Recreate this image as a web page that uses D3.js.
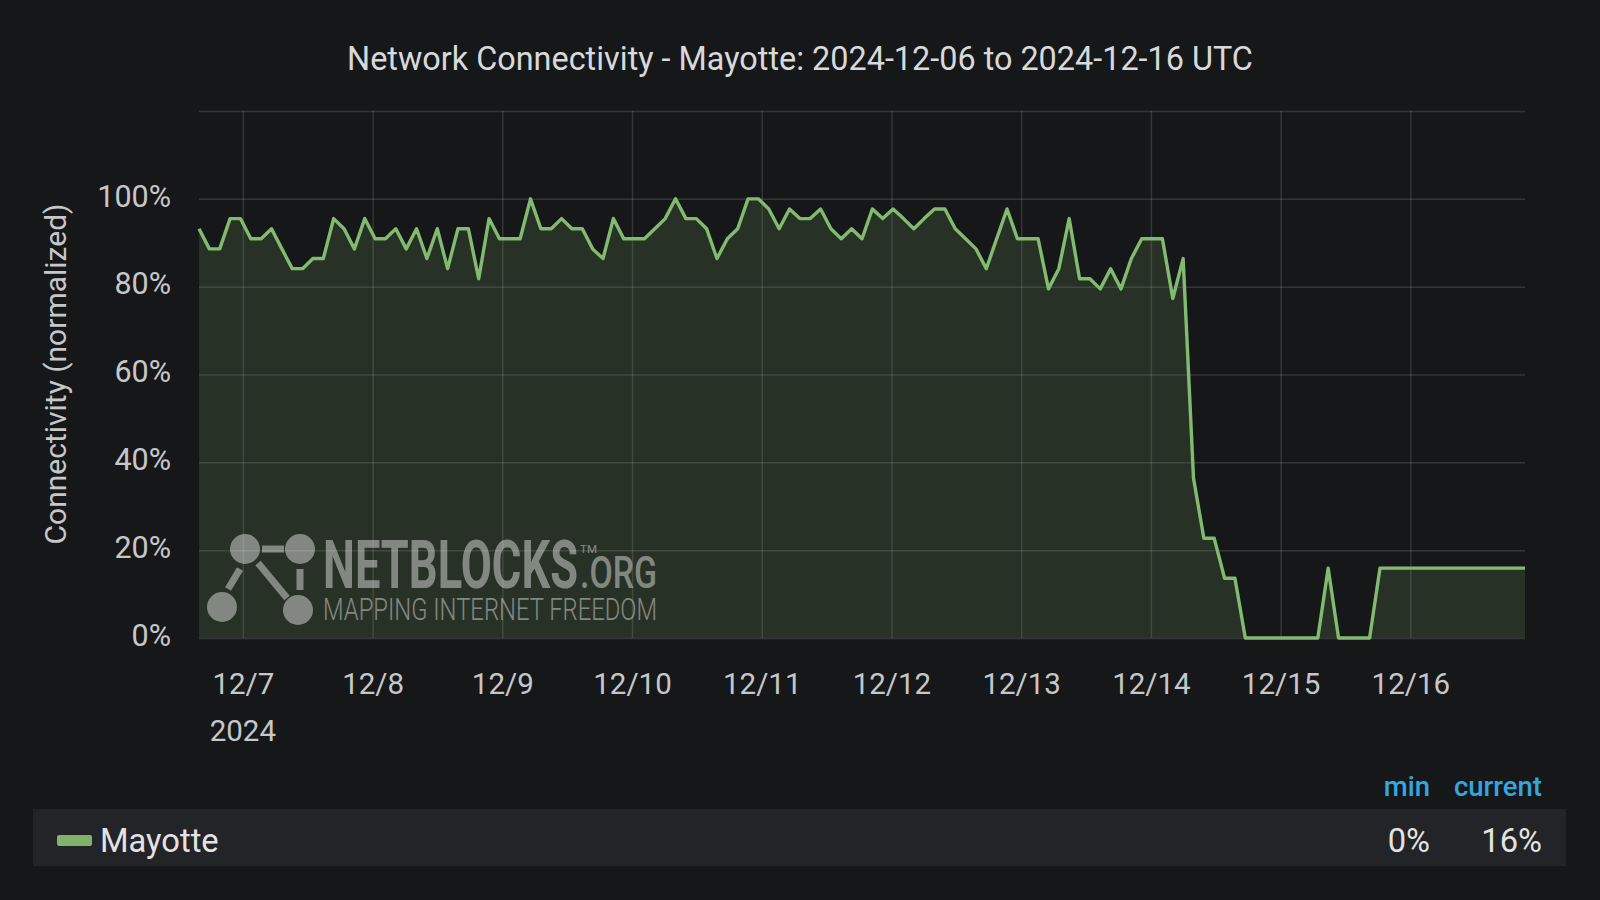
<!DOCTYPE html>
<html><head><meta charset="utf-8">
<script src="https://cdn.jsdelivr.net/npm/d3@7"></script>
<style>
html,body{margin:0;padding:0;background:#161719;}
svg{display:block;}
text{font-family:Roboto,"Noto Sans",sans-serif;}
</style></head><body>
<svg id="chart" width="1600" height="900"></svg>
<script>
// ---- data ----
const chartTitle = "Network Connectivity - Mayotte: 2024-12-06 to 2024-12-16 UTC";
const seriesName = "Mayotte";
const yAxisTitle = "Connectivity (normalized)";
const startTime = "2024-12-06T15:53:00Z";
const stepMinutes = 115;
const connectivity = [
  93.2,88.6,88.6,95.5,95.5,90.9,90.9,93.2,88.6,84.1,
  84.1,86.4,86.4,95.5,93.2,88.6,95.5,90.9,90.9,93.2,
  88.6,93.2,86.4,93.2,84.1,93.2,93.2,81.8,95.5,90.9,
  90.9,90.9,100,93.2,93.2,95.5,93.2,93.2,
  88.6,86.4,95.5,90.9,90.9,90.9,93.2,95.5,100,95.5,
  95.5,93.2,86.4,90.9,93.2,100,100,97.7,93.2,97.7,
  95.5,95.5,97.7,93.2,90.9,93.2,90.9,97.7,95.5,97.7,
  95.5,93.2,95.5,97.7,97.7,93.2,
  90.9,88.6,84.1,90.9,97.7,90.9,90.9,90.9,79.5,84.1,
  95.5,81.8,81.8,79.5,84.1,79.5,86.4,90.9,90.9,90.9,
  77.3,86.4,
  36.4,22.7,22.7,13.6,13.6,
  0,0,0,0,0,0,0,0,
  15.9,
  0,0,0,0,
  15.9,15.9,15.9,15.9,15.9,15.9,15.9,15.9,15.9,15.9,15.9,15.9,15.9,15.9,15.9
];
const yTickValues = [0,20,40,60,80,100];
const yGridValues = [0,20,40,60,80,100,120];
const xTickDates = ["2024-12-07","2024-12-08","2024-12-09","2024-12-10","2024-12-11",
                    "2024-12-12","2024-12-13","2024-12-14","2024-12-15","2024-12-16"];
const yearLabel = "2024";
const legendHeaders = ["min","current"];

// ---- build ----
const t0 = new Date(startTime);
const data = connectivity.map((v,i)=>({t:new Date(t0.getTime()+i*stepMinutes*60000), v}));
const svg = d3.select("#chart");
const W=1600,H=900;
svg.append("rect").attr("width",W).attr("height",H).attr("fill","#161719");

const plot = {left:199, right:1525, top:111, bottom:638};
const x = d3.scaleUtc().domain(d3.extent(data,d=>d.t)).range([plot.left,plot.right]);
const y = d3.scaleLinear().domain([0,120]).range([plot.bottom,plot.top]);
const dayTicks = xTickDates.map(d=>new Date(d+"T00:00:00Z"));

const gridColor = "rgba(255,255,255,0.13)";
const gy = svg.append("g").attr("transform",`translate(${plot.left},0)`)
  .call(d3.axisLeft(y).tickValues(yGridValues).tickSize(-(plot.right-plot.left)).tickFormat(""));
gy.select(".domain").remove();
gy.selectAll("line").attr("stroke",gridColor).attr("stroke-width",1.5);
const gx = svg.append("g").attr("transform",`translate(0,${plot.bottom})`)
  .call(d3.axisBottom(x).tickValues(dayTicks).tickSize(-(plot.bottom-plot.top)).tickFormat(""));
gx.select(".domain").remove();
gx.selectAll("line").attr("stroke",gridColor).attr("stroke-width",1.5);

// area + line
svg.append("path").datum(data)
  .attr("d",d3.area().x(d=>x(d.t)).y0(y(0)).y1(d=>y(d.v)))
  .attr("fill","rgba(126,178,109,0.17)");
svg.append("path").datum(data)
  .attr("d",d3.line().x(d=>x(d.t)).y(d=>y(d.v)))
  .attr("fill","none").attr("stroke","#82ba70").attr("stroke-width",3.4).attr("stroke-linejoin","round");

// watermark
const wm = svg.append("g").attr("opacity",0.42).attr("fill","#ffffff").attr("stroke","#ffffff");
[[245,549],[300,549],[222,607],[298,610]].forEach(c=>wm.append("circle").attr("cx",c[0]).attr("cy",c[1]).attr("r",15).attr("stroke","none"));
[[[262,549],[284,549]],[[240,569],[228,589]],[[258,563],[287,598]],[[300,569],[300,590]]].forEach(s=>
  wm.append("line").attr("x1",s[0][0]).attr("y1",s[0][1]).attr("x2",s[1][0]).attr("y2",s[1][1]).attr("stroke-width",7));
const wt = wm.append("text").attr("stroke","none");
wt.append("tspan").attr("x",323).attr("y",588).attr("font-size",66).attr("font-weight",700)
  .attr("textLength",255).attr("lengthAdjust","spacingAndGlyphs").text("NETBLOCKS");
wt.append("tspan").attr("x",580).attr("y",553).attr("font-size",11)
  .attr("textLength",17).attr("lengthAdjust","spacingAndGlyphs").text("TM");
wt.append("tspan").attr("x",580).attr("y",588).attr("font-size",45).attr("font-weight",500)
  .attr("textLength",77).attr("lengthAdjust","spacingAndGlyphs").text(".ORG");
wt.append("tspan").attr("x",323).attr("y",620).attr("font-size",31).attr("font-weight",300)
  .attr("textLength",334).attr("lengthAdjust","spacingAndGlyphs").text("MAPPING INTERNET FREEDOM");

// y axis labels
const tickColor = "#c6c7c9";
const ay = svg.append("g").attr("transform",`translate(${plot.left},0)`)
  .call(d3.axisLeft(y).tickValues(yTickValues).tickSize(0).tickPadding(28).tickFormat(d=>d+"%"));
ay.select(".domain").remove();
ay.selectAll("text").attr("fill",tickColor).attr("font-size",30.5).attr("font-family","Roboto").attr("dy","0.24em");

// x axis labels
const ax = svg.append("g").attr("transform",`translate(0,${plot.bottom})`)
  .call(d3.axisBottom(x).tickValues(dayTicks).tickSize(0).tickPadding(35).tickFormat(d3.utcFormat("%-m/%-d")));
ax.select(".domain").remove();
ax.selectAll("text").attr("fill",tickColor).attr("font-size",29.5).attr("font-family","Roboto");
svg.append("text").attr("x",x(dayTicks[0])).attr("y",741).attr("text-anchor","middle")
  .attr("fill",tickColor).attr("font-size",29.5).text(yearLabel);

// y axis title
svg.append("text").attr("transform","translate(66,374) rotate(-90)").attr("text-anchor","middle")
  .attr("fill",tickColor).attr("font-size",30).text(yAxisTitle);

// title
svg.append("text").attr("x",800).attr("y",70).attr("text-anchor","middle")
  .attr("fill","#d8d9da").attr("font-size",32.4).text(chartTitle);

// legend
const minVal = d3.min(connectivity), curVal = connectivity[connectivity.length-1];
const colX = [1430,1542];
legendHeaders.forEach((h,i)=>svg.append("text").attr("x",colX[i]).attr("y",796).attr("text-anchor","end")
  .attr("fill","#33a5e0").attr("font-size",27.5).attr("font-weight",500).text(h));
svg.append("rect").attr("x",33).attr("y",809).attr("width",1533).attr("height",57).attr("fill","#232427");
svg.append("rect").attr("x",57).attr("y",835).attr("width",35).attr("height",11).attr("rx",2).attr("fill","#7eb26d");
svg.append("text").attr("x",100).attr("y",852).attr("fill","#e3e3e3").attr("font-size",32.7).text(seriesName);
[minVal,curVal].forEach((v,i)=>svg.append("text").attr("x",colX[i]).attr("y",852).attr("text-anchor","end")
  .attr("fill","#e3e3e3").attr("font-size",32.7).text(Math.round(v)+"%"));
</script>
</body></html>
